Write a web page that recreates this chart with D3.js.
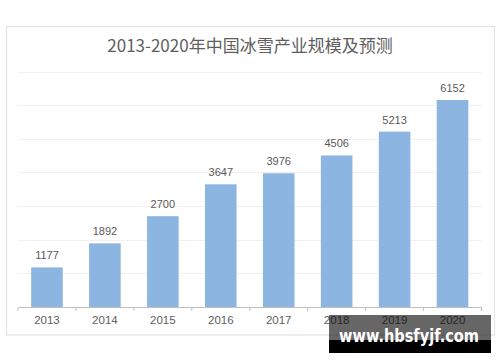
<!DOCTYPE html>
<html>
<head>
<meta charset="utf-8">
<script src="https://cdn.jsdelivr.net/npm/d3@7"></script>
<style>
  body { margin: 0; background: #fff; }
  svg { display: block; font-family: "Liberation Sans", Arial, sans-serif; }
</style>
</head>
<body>
<div id="chart"></div>
<script>
let years = ["2013", "2014", "2015", "2016", "2017", "2018", "2019", "2020"];
let values = [1177, 1892, 2700, 3647, 3976, 4506, 5213, 6152];
let gridTicks = [1000, 2000, 3000, 4000, 5000, 6000, 7000];
let title = "2013-2020年中国冰雪产业规模及预测";
let watermark = "www.hbsfyjf.com";

let width = 500;
let height = 362;
let margin = {top: 71.5, bottom: 55, left: 18, right: 18.5};

let svg = d3.select("#chart").append("svg")
  .attr("width", width)
  .attr("height", height);

// chart frame
svg.append("rect")
  .attr("x", 6.5).attr("y", 26.5)
  .attr("width", 488).attr("height", 308.5)
  .attr("fill", "#fff")
  .attr("stroke", "#e3e3e3")
  .attr("stroke-width", 1.2);

svg.append("text")
  .attr("x", 250).attr("y", 52)
  .attr("text-anchor", "middle")
  .attr("font-family", "'Noto Sans CJK SC', sans-serif")
  .attr("font-size", 17)
  .attr("fill", "#5e5e5e")
  .text(title);

let x = d3.scaleBand()
  .domain(years)
  .range([margin.left, width - margin.right])
  .paddingInner(0.455)
  .paddingOuter(0.2275);

let y = d3.scaleLinear()
  .domain([0, 7000])
  .range([height - margin.bottom, margin.top]);

// gridlines
svg.append("g")
  .selectAll("line")
  .data(gridTicks)
  .join("line")
  .attr("x1", margin.left)
  .attr("x2", width - margin.right)
  .attr("y1", d => Math.round(y(d)) + 0.5)
  .attr("y2", d => Math.round(y(d)) + 0.5)
  .attr("stroke", "#f0f0f0")
  .attr("stroke-width", 1);

// bars
svg.append("g")
  .selectAll("rect")
  .data(values)
  .join("rect")
  .attr("x", (d, i) => x(years[i]))
  .attr("y", d => y(d))
  .attr("width", x.bandwidth())
  .attr("height", d => y(0) - y(d))
  .attr("fill", "#8db5e2");

// value labels
svg.append("g")
  .selectAll("text")
  .data(values)
  .join("text")
  .attr("x", (d, i) => x(years[i]) + x.bandwidth() / 2)
  .attr("y", d => y(d) - 8)
  .attr("text-anchor", "middle")
  .attr("font-size", 11)
  .attr("fill", "#595959")
  .text(d => d);

// x axis
let xAxis = svg.append("g")
  .attr("transform", `translate(0,${y(0)})`)
  .call(d3.axisBottom(x).tickSize(0).tickPadding(9));

xAxis.select(".domain").attr("stroke", "#bfbfbf");
xAxis.selectAll("text")
  .attr("font-size", 11.5)
  .attr("fill", "#606060")
  .attr("font-family", "'Liberation Sans', Arial, sans-serif");

// tick marks between categories
let edges = years.map(d => x(d) - x.step() * x.paddingInner() / 2);
edges.push(width - margin.right);
svg.append("g")
  .selectAll("line")
  .data(edges)
  .join("line")
  .attr("x1", d => d).attr("x2", d => d)
  .attr("y1", y(0)).attr("y2", y(0) + 4)
  .attr("stroke", "#bfbfbf");

// watermark
let wm = svg.append("g");
wm.append("rect")
  .attr("x", 329).attr("y", 315)
  .attr("width", 162).attr("height", 25)
  .attr("fill", "rgba(0,0,0,0.6)");
wm.append("rect")
  .attr("x", 329).attr("y", 340)
  .attr("width", 162).attr("height", 13)
  .attr("fill", "#000");
wm.append("text")
  .attr("x", 339).attr("y", 342)
  .attr("font-family", "'DejaVu Sans', sans-serif")
  .attr("font-weight", "bold")
  .attr("font-size", 17)
  .attr("textLength", 140)
  .attr("lengthAdjust", "spacingAndGlyphs")
  .attr("fill", "#fff")
  .text(watermark);
</script>
</body>
</html>
